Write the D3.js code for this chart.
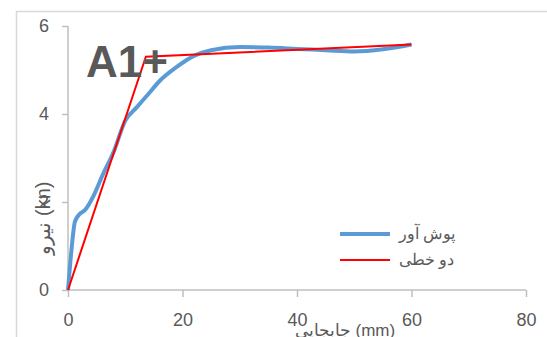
<!DOCTYPE html>
<html>
<head>
<meta charset="utf-8">
<script src="https://cdn.jsdelivr.net/npm/d3@7"></script>
<style>
  body { margin: 0; background: #fff; }
  text { font-family: "Liberation Sans", Arial, sans-serif; fill: #595959; }
</style>
</head>
<body>
<svg id="chart" width="547" height="337"></svg>
<script>
// pushover curve (displacement mm, force kn)
var pushX = [0, 0.6, 1.2, 2, 3, 4.5, 6, 8, 10, 12, 14, 16, 19, 22, 25, 30, 35, 40, 45, 50, 55, 60];
var pushY = [0, 0.9, 1.55, 1.72, 1.82, 2.15, 2.6, 3.15, 3.85, 4.15, 4.45, 4.75, 5.07, 5.32, 5.45, 5.52, 5.51, 5.48, 5.45, 5.42, 5.47, 5.58];
// bilinear
var biX = [0, 13.6, 60];
var biY = [0, 5.3, 5.58];

var xTicks = [0, 20, 40, 60, 80];
var yTicks = [0, 2, 4, 6];
var seriesNames = ["پوش آور", "دو خطی"];
var title = "A1+";

var svg = d3.select("#chart");

// chart border
svg.append("rect")
  .attr("x", 16.5).attr("y", 11.5)
  .attr("width", 600).attr("height", 400)
  .style("fill", "none").style("stroke", "#d9d9d9").style("stroke-width", 1.5);

var x = d3.scaleLinear().domain([0, 80]).range([68, 526]);
var y = d3.scaleLinear().domain([0, 6]).range([290, 26]);

// y axis
var yAxis = svg.append("g").attr("transform", "translate(68,0)")
  .call(d3.axisLeft(y).tickValues(yTicks).tickSize(6).tickPadding(13).tickFormat(d3.format("d")));
// x axis
var xAxis = svg.append("g").attr("transform", "translate(0,290)")
  .call(d3.axisBottom(x).tickValues(xTicks).tickSize(7).tickPadding(16).tickFormat(d3.format("d")));

[yAxis, xAxis].forEach(function(a) {
  a.selectAll("path, line").style("stroke", "#bfbfbf").style("stroke-width", 1.5);
  a.selectAll("text").style("font-size", "18px").style("fill", "#595959")
    .style("font-family", "Liberation Sans, Arial, sans-serif");
});
yAxis.select(".domain").attr("d", "M0,26V290");
xAxis.select(".domain").attr("d", "M68,0H526");

var pushData = pushX.map(function(d, i) { return [d, pushY[i]]; });
var biData = biX.map(function(d, i) { return [d, biY[i]]; });

var smooth = d3.line().x(function(d) { return x(d[0]); }).y(function(d) { return y(d[1]); })
  .curve(d3.curveMonotoneX);
var straight = d3.line().x(function(d) { return x(d[0]); }).y(function(d) { return y(d[1]); });

svg.append("path").attr("d", smooth(pushData))
  .style("fill", "none").style("stroke", "#5b9bd5").style("stroke-width", 4)
  .style("stroke-linejoin", "round");
svg.append("path").attr("d", straight(biData))
  .style("fill", "none").style("stroke", "#ff0000").style("stroke-width", 2);

// title
svg.append("text").attr("x", 86).attr("y", 77).text(title)
  .style("font-size", "44px").style("font-weight", "bold").style("fill", "#595959");

// axis titles
svg.append("text")
  .attr("transform", "translate(50,218) rotate(-90)")
  .attr("text-anchor", "middle")
  .style("font-size", "20px")
  .text("نیرو (kn)");
svg.append("text")
  .attr("x", 345).attr("y", 336)
  .attr("text-anchor", "middle")
  .style("font-size", "17px")
  .text("جابجایی (mm)");

// legend
var legColors = ["#5b9bd5", "#ff0000"];
var legWidths = [4, 2];
seriesNames.forEach(function(n, i) {
  var ly = 234 + i * 26;
  svg.append("line").attr("x1", 340).attr("x2", 390).attr("y1", ly).attr("y2", ly)
    .style("stroke", legColors[i]).style("stroke-width", legWidths[i]);
  svg.append("text").attr("x", 399).attr("y", ly + 5).text(n)
    .style("font-size", "16px");
});
</script>
</body>
</html>
